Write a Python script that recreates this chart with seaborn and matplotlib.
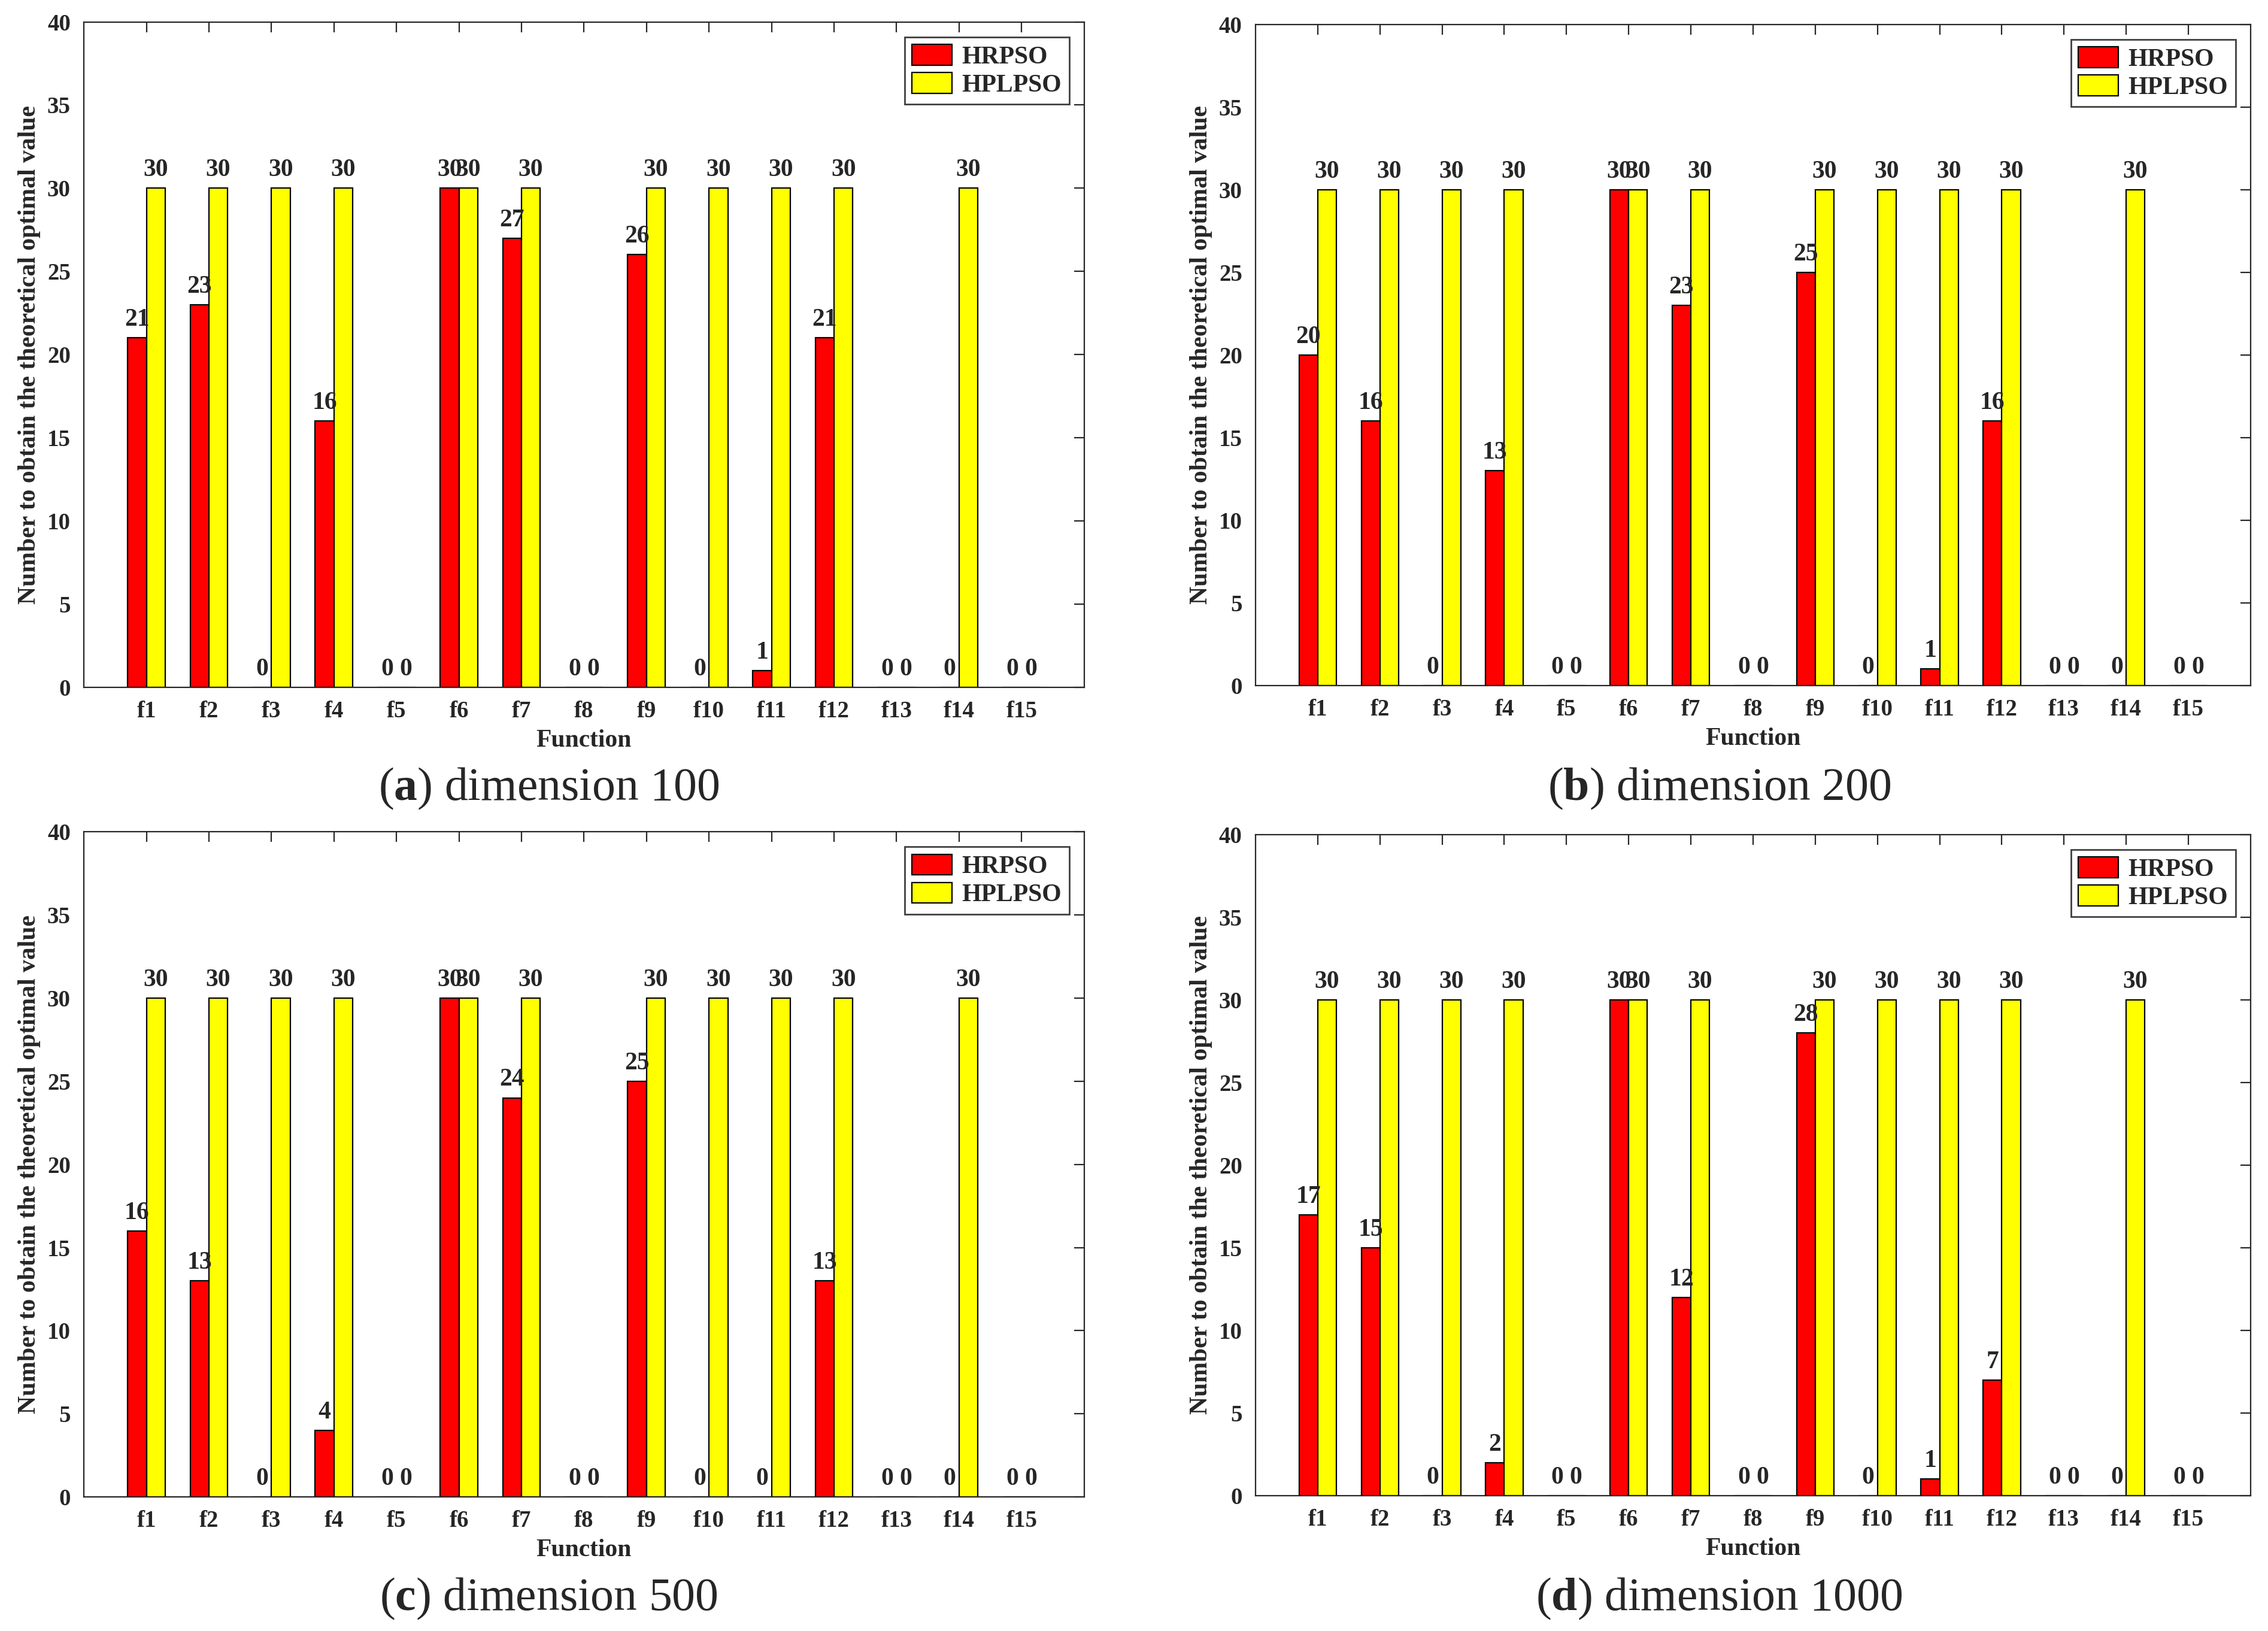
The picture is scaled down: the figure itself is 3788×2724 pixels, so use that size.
import pandas as pd
import numpy as np
import seaborn as sb
import matplotlib.pyplot as plt

# data
functions = ['f%d' % i for i in range(1, 16)]
methods = ['HRPSO', 'HPLPSO']
hrpso_100 = [21, 23, 0, 16, 0, 30, 27, 0, 26, 0, 1, 21, 0, 0, 0]
hrpso_200 = [20, 16, 0, 13, 0, 30, 23, 0, 25, 0, 1, 16, 0, 0, 0]
hrpso_500 = [16, 13, 0, 4, 0, 30, 24, 0, 25, 0, 0, 13, 0, 0, 0]
hrpso_1000 = [17, 15, 0, 2, 0, 30, 12, 0, 28, 0, 1, 7, 0, 0, 0]
hplpso_all = [30, 30, 30, 30, 0, 30, 30, 0, 30, 30, 30, 30, 0, 30, 0]
letters = ['a', 'b', 'c', 'd']
dimensions = [100, 200, 500, 1000]

# styling
sb.set_style('white')
plt.rcParams['font.family'] = ['Liberation Serif', 'DejaVu Serif']
plt.rcParams['font.weight'] = 'bold'
plt.rcParams['axes.labelweight'] = 'bold'
plt.rcParams['mathtext.fontset'] = 'custom'
plt.rcParams['mathtext.rm'] = 'Liberation Serif'
plt.rcParams['mathtext.bf'] = 'Liberation Serif:bold'

fig = plt.figure(figsize=(18.94, 13.62))

# axes rectangles [left, bottom, width, height]
rects = [[0.037, 0.5786, 0.441, 0.408],
         [0.5536, 0.5797, 0.4387, 0.4053],
         [0.037, 0.0822, 0.441, 0.4078],
         [0.5536, 0.083, 0.4387, 0.4053]]
caption_pos = [(0.242, 0.5165), (0.758, 0.5165), (0.242, 0.0198), (0.758, 0.0198)]

for i, hr in enumerate([hrpso_100, hrpso_200, hrpso_500, hrpso_1000]):
    ax = fig.add_axes(rects[i])
    df = pd.DataFrame({'Function': functions * 2,
                       'Method': [methods[0]] * len(functions) + [methods[1]] * len(functions),
                       'Count': hr + hplpso_all})
    sb.barplot(data=df, x='Function', y='Count', hue='Method',
               palette=['#ff0000', '#ffff00'], saturation=1,
               width=0.6, gap=0, edgecolor='black', linewidth=0.8,
               errorbar=None, ax=ax)

    # annotate bar values
    for c in ax.containers:
        ax.bar_label(c, fmt='%d', padding=4, fontsize=15, fontweight='bold')

    ax.set_xlim(-1, 15)
    ax.set_ylim(0, 40)
    ax.set_yticks(np.arange(0, 41, 5))
    ax.tick_params(direction='in', top=True, right=True, length=6,
                   width=0.8, labelsize=14, pad=8)
    for s in ax.spines.values():
        s.set_visible(True)
        s.set_color('0.15')
        s.set_linewidth(0.8)
    ax.set_xlabel('Function', fontsize=15, labelpad=4)
    ax.set_ylabel('Number to obtain the theoretical optimal value', fontsize=15, labelpad=4)

    ax.legend(loc='upper right', fontsize=15, fancybox=False, edgecolor='0.25',
              framealpha=1, handlelength=1.6, handleheight=0.9, labelspacing=0.15,
              borderpad=0.3, handletextpad=0.4, borderaxespad=0.6)

    fig.text(caption_pos[i][0], caption_pos[i][1],
             r'($\mathbf{%s}$) dimension %d' % (letters[i], dimensions[i]),
             ha='center', va='center', fontsize=28, fontweight='normal')

fig.savefig('out.png', dpi=200)
